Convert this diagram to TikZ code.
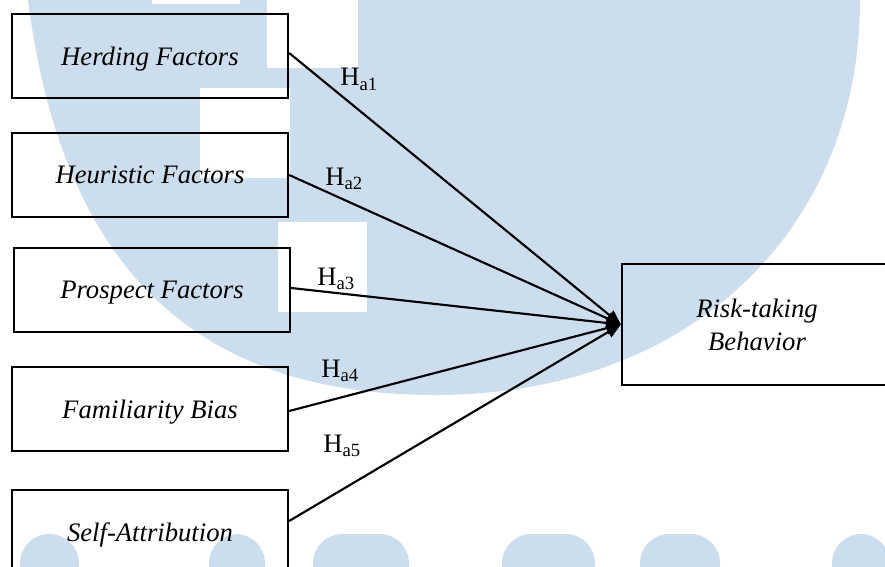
\documentclass[tikz,border=0pt]{standalone}
\usepackage{fontspec}
\setmainfont{Liberation Serif}
\usetikzlibrary{arrows.meta}
\definecolor{markblue}{HTML}{CCDDED}
\newcommand{\hyp}[1]{H\textsubscript{a#1}}
\begin{document}
\begin{tikzpicture}[x=0.75pt, y=-0.75pt,
                    every node/.style = {align=center, inner sep=0pt,
                            font=\fontsize{20}{24.75}\selectfont},
                    factor/.style = {draw, line width=1.7pt, text depth=0pt,
                            minimum width=207pt, minimum height=63pt,
                            font=\fontsize{20}{24.75}\selectfont\itshape},
                    link/.style = {line width=1.6pt,
                            -{Triangle[length=11pt, width=9pt]}}]
\useasboundingbox (0,0) rectangle (885,567);
% watermark in the back
\fill[markblue] (28,0) .. controls (60,250) and (180,395) .. (435,395)
                .. controls (690,395) and (860,230) .. (860,0) -- cycle;
\fill[white] (152,0) rectangle (240,4);
\fill[white] (267,0) rectangle (358,68);
\fill[white] (200,88) rectangle (290,178);
\fill[white] (278,222) rectangle (367,312);
\foreach \a/\b in {20/79, 209/265, 313/409, 502/595, 640/720, 832/890}
  \fill[markblue, rounded corners=22pt] (\a,600) -- (\a,534) -- (\b,534) -- (\b,600);
% boxes
\node[factor] (herd) at (150,56) {Herding Factors};
\node[factor] (heur) at (150,175) {Heuristic Factors};
\node[factor] (prosp) at (152,290) {Prospect Factors};
\node[factor] (famil) at (150,409) {Familiarity Bias};
\node[factor] (selfatt) at (150,532) {Self-Attribution};
\node[factor, minimum width=202.5pt, minimum height=90.75pt] (risk)
    at (757,324.5) {Risk-taking\\Behavior};
% hypotheses
\draw[link] ([yshift=2.25pt]herd.east) -- (risk.west);
\draw[link] (heur.east) -- (risk.west);
\draw[link] ([yshift=1.5pt]prosp.east) -- (risk.west);
\draw[link] ([yshift=-1.5pt]famil.east) -- (risk.west);
\draw[link] ([yshift=8.25pt]selfatt.east) -- (risk.west);
\node[anchor=base west] (ha1) at (340,86) {\hyp{1}};
\node[anchor=base west] (ha2) at (325,185) {\hyp{2}};
\node[anchor=base west] (ha3) at (317,285) {\hyp{3}};
\node[anchor=base west] (ha4) at (321,377) {\hyp{4}};
\node[anchor=base west] (ha5) at (323,452) {\hyp{5}};
\end{tikzpicture}
\end{document}
